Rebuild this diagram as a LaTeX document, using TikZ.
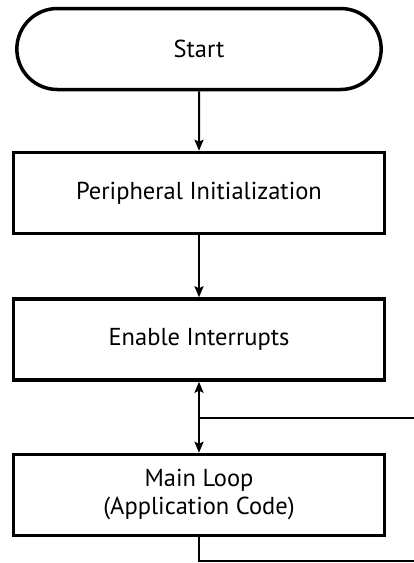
\documentclass[tikz,border=0pt]{standalone}
\usepackage{fontspec}
\setmainfont{PT Sans}
\usetikzlibrary{shapes.misc,arrows.meta}

\begin{document}
\begin{tikzpicture}[x=1pt,y=-1pt,
        box/.style={draw,line width=3.5pt,minimum width=371pt,minimum height=81pt,align=center,font=\fontsize{24.5}{28}\selectfont},
        term/.style={box,rounded rectangle},
        link/.style={line width=2pt},
        arr/.style={link,-{Stealth[length=11pt,width=9pt,inset=2pt]}},
        darr/.style={link,{Stealth[length=11pt,width=9pt,inset=2pt]}-{Stealth[length=11pt,width=9pt,inset=2pt]}}]
        \useasboundingbox (0,0) rectangle (414,563);
        \node[term] (start) at (199,49) {Start};
        \node[box] (peri) at (199,193) {Peripheral Initialization};
        \node[box] (irq) at (199,339.5) {Enable Interrupts};
        \node[box] (main) at (199,495) {Main Loop\\(Application Code)};
        \coordinate (isr) at (414,418);
        \coordinate (ret) at (414,561);
        \draw[arr] (start) -- (peri);
        \draw[arr] (peri) -- (irq);
        \draw[darr] (irq) -- (main);
        \draw[link] (isr) -- (irq.south |- isr);
        \draw[link] (main) |- (ret);
    \end{tikzpicture}
\end{document}
